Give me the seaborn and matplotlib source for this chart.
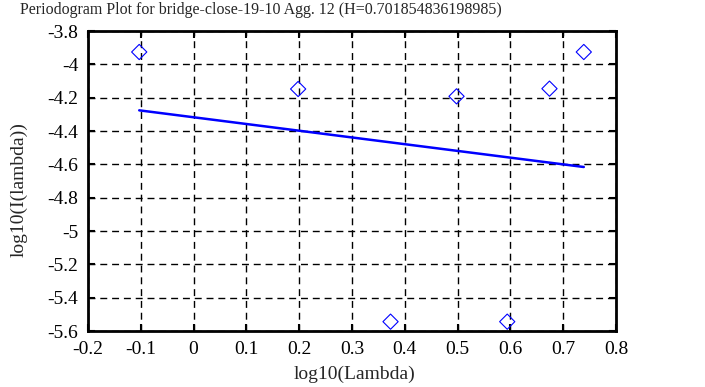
import numpy as np
import pandas as pd
import matplotlib
matplotlib.use("Agg")
import matplotlib.pyplot as plt
import seaborn as sns

# -------------------------
# Data
# -------------------------
log_lambda = [-0.103, 0.198, 0.373, 0.498, 0.594, 0.674, 0.739]
log_periodogram = [-3.926, -4.148, -5.544, -4.192, -5.544, -4.146, -3.926]

fit_x = [-0.103, 0.739]
fit_y = [-4.276, -4.616]

x_ticks = [-0.2, -0.1, 0, 0.1, 0.2, 0.3, 0.4, 0.5, 0.6, 0.7, 0.8]
x_tick_labels = ["-0.2", "-0.1", "0", "0.1", "0.2", "0.3", "0.4", "0.5", "0.6", "0.7", "0.8"]
y_ticks = [-5.6, -5.4, -5.2, -5.0, -4.8, -4.6, -4.4, -4.2, -4.0, -3.8]
y_tick_labels = ["-5.6", "-5.4", "-5.2", "-5", "-4.8", "-4.6", "-4.4", "-4.2", "-4", "-3.8"]

title = "Periodogram Plot for bridge-close-19-10 Agg. 12 (H=0.701854836198985)"

points_df = pd.DataFrame({"x": log_lambda, "y": log_periodogram})
fit_df = pd.DataFrame({"x": fit_x, "y": fit_y})

# -------------------------
# Style
# -------------------------
sns.set_style("ticks")
plt.rcParams["font.family"] = ["Liberation Serif", "DejaVu Serif"]

fig = plt.figure(figsize=(7.05, 3.87), dpi=100)
ax = fig.add_axes([88 / 705, 56 / 387, 528 / 705, 300 / 387])

sns.lineplot(data=fit_df, x="x", y="y", color="#0000ff", linewidth=1.8, ax=ax)

sns.scatterplot(
    data=points_df,
    x="x",
    y="y",
    marker="D",
    s=60,
    facecolors="none",
    edgecolor="#0000ff",
    linewidth=0.8,
    ax=ax,
    zorder=3
)

ax.set_xlim(-0.2, 0.8)
ax.set_ylim(-5.6, -3.8)
ax.set_xticks(x_ticks)
ax.set_xticklabels(x_tick_labels)
ax.set_yticks(y_ticks)
ax.set_yticklabels(y_tick_labels)

ax.grid(True, color="black", linestyle=(0, (5, 3.5)), linewidth=1.0)
ax.tick_params(direction="in", length=5, width=1.5, top=True, right=True,
               labelsize=14, colors="black", pad=7)
for spine in ax.spines.values():
    spine.set_linewidth(2)
    spine.set_color("black")

ax.set_xlabel("log10(Lambda)", fontsize=14)
ax.set_ylabel("log10(I(lambda))", fontsize=14)
ax.xaxis.set_label_coords(0.505, -0.115)
ax.yaxis.set_label_coords(-0.114, 0.47)

fig.text(261 / 705, 1 - 10 / 387, title, ha="center", va="center", fontsize=11.5)

plt.savefig("out.png", dpi=100)
plt.close()
